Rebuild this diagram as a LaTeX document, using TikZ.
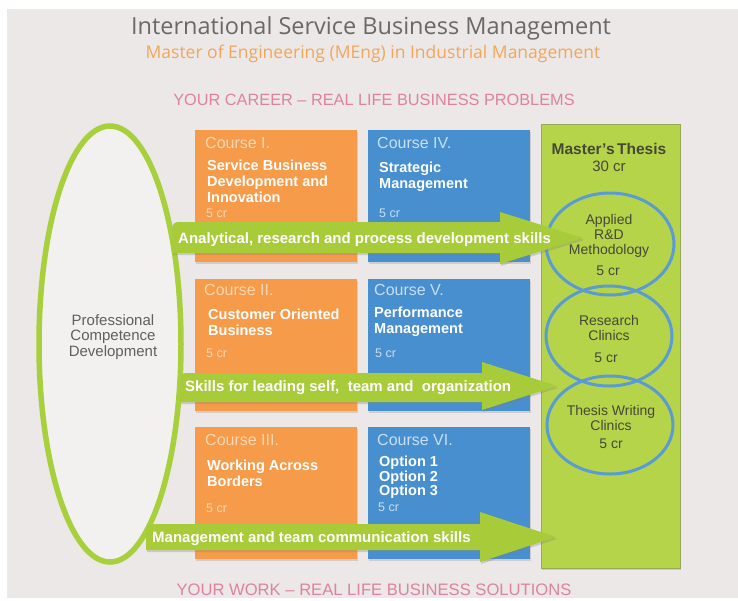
\documentclass[tikz,border=0pt]{standalone}
\usepackage{fontspec}
\setmainfont{Liberation Sans}
\newfontfamily\titlefont{Open Sans}
\usetikzlibrary{shadows}
\definecolor{bggray}{RGB}{235,232,231}
\definecolor{corange}{RGB}{246,155,74}
\definecolor{cblue}{RGB}{72,143,207}
\definecolor{thesisgreen}{RGB}{182,212,74}
\definecolor{arrowgreen}{RGB}{168,203,58}
\definecolor{ringgreen}{RGB}{168,207,60}
\definecolor{ringblue}{RGB}{91,155,213}
\definecolor{paleorange}{RGB}{253,215,178}
\definecolor{paleblue}{RGB}{200,222,243}
\definecolor{pinktext}{RGB}{221,130,162}
\definecolor{suborange}{RGB}{243,166,90}
\definecolor{titlegray}{RGB}{105,105,105}
\definecolor{darktext}{RGB}{70,72,55}
\tikzset{
  coursebox/.style={draw=none, drop shadow={shadow xshift=1pt, shadow yshift=-2pt, opacity=0.25}},
  chead/.style={anchor=base west, inner sep=0, font=\fontsize{16}{18}\selectfont},
  ctitle/.style={anchor=north west, inner sep=0, align=left, text=white, font=\fontsize{14.5}{16}\selectfont\bfseries},
  ccr/.style={anchor=base west, inner sep=0, font=\fontsize{12.5}{14}\selectfont},
  skillarrow/.style={fill=arrowgreen, drop shadow={shadow xshift=1pt, shadow yshift=-2pt, opacity=0.3}},
  skilltext/.style={anchor=base west, inner sep=0, text=white, font=\fontsize{15}{17}\selectfont\bfseries},
  ringtext/.style={align=center, inner sep=0, text=darktext, font=\fontsize{14}{15}\selectfont},
  ring/.style={draw=ringblue, line width=3pt},
}
\begin{document}
\begin{tikzpicture}[x=1pt,y=-1pt]
\useasboundingbox (0,0) rectangle (738,600);
\fill[bggray] (7,9) rectangle (738,598);

% titles
\node[text=titlegray, font=\titlefont\fontsize{23.5}{26}\selectfont] (title) at (371,28) {International Service Business Management};
\node[text=suborange, font=\titlefont\fontsize{17.5}{20}\selectfont] (subtitle) at (373,54) {Master of Engineering (MEng) in Industrial Management};
\node[text=pinktext, font=\fontsize{16.3}{18}\selectfont] (career) at (374,100) {YOUR CAREER -- REAL LIFE BUSINESS PROBLEMS};
\node[text=pinktext, font=\fontsize{16.6}{18}\selectfont] (work) at (374,590) {YOUR WORK -- REAL LIFE BUSINESS SOLUTIONS};

% competence ellipse
\draw[ringgreen, line width=5.5pt, fill={rgb,255:red,242;green,241;blue,240}] (110,344) ellipse [x radius=71, y radius=218];
\node[align=center, text={rgb,255:red,95;green,95;blue,95}, font=\fontsize{15}{15.5}\selectfont] (pcd) at (113,337) {Professional\\Competence\\Development};

% thesis column
\fill[thesisgreen, draw={rgb,255:red,150;green,170;blue,90}, line width=0.6pt, drop shadow={shadow xshift=1pt, shadow yshift=-2pt, opacity=0.3}] (541,124) rectangle (680,568);
\node[text=darktext, font=\fontsize{15.5}{17}\selectfont\bfseries, inner sep=0] (mt) at (609,149) {Master's\,Thesis};
\node[text=darktext, font=\fontsize{15}{17}\selectfont, inner sep=0] (mtcr) at (609,166) {30 cr};

% course boxes
\fill[corange, coursebox] (195,130) rectangle (357,262);
\fill[cblue, coursebox] (368,130) rectangle (530,262);
\fill[corange, coursebox] (195,279) rectangle (357,411);
\fill[cblue, coursebox] (368,279) rectangle (530,411);
\fill[corange, coursebox] (195,427) rectangle (357,559);
\fill[cblue, coursebox] (368,427) rectangle (530,559);

\node[chead, text=paleorange] (c1h) at (205,148) {Course I.};
\node[ctitle] (c1t) at (207,160) {Service Business\\Development and\\Innovation};
\node[ccr, text=paleorange] (c1c) at (206,217) {5 cr};
\node[chead, text=paleblue] (c4h) at (377,148) {Course IV.};
\node[ctitle] (c4t) at (379,162) {Strategic\\Management};
\node[ccr, text=paleblue] (c4c) at (379,217) {5 cr};

\node[chead, text=paleorange] (c2h) at (204,295) {Course II.};
\node[ctitle] (c2t) at (208,309) {Customer Oriented\\Business};
\node[ccr, text=paleorange] (c2c) at (206,357) {5 cr};
\node[chead, text=paleblue] (c5h) at (374,295) {Course V.};
\node[ctitle] (c5t) at (374,307) {Performance\\Management};
\node[ccr, text=paleblue] (c5c) at (375,357) {5 cr};

\node[chead, text=paleorange] (c3h) at (205,445) {Course III.};
\node[ctitle] (c3t) at (207,460) {Working Across\\Borders};
\node[ccr, text=paleorange] (c3c) at (206,512) {5 cr};
\node[chead, text=paleblue] (c6h) at (377,445) {Course VI.};
\node[ctitle, font=\fontsize{14.5}{14.5}\selectfont\bfseries] (c6t) at (379,456) {Option 1\\Option 2\\Option 3};
\node[ccr, text=paleblue] (c6c) at (378,511) {5 cr};

% thesis rings
\draw[ring] (610,244) ellipse [x radius=64, y radius=51];
\draw[ring] (609,336) ellipse [x radius=63, y radius=50];
\draw[ring] (610,425) ellipse [x radius=63, y radius=49];
\node[ringtext] (r1) at (609,236) {Applied\\R\&D\\Methodology};
\node[ringtext] (r1c) at (608,271) {5 cr};
\node[ringtext] (r2) at (609,328) {Research\\Clinics};
\node[ringtext] (r2c) at (606,358) {5 cr};
\node[ringtext] (r3) at (611,418) {Thesis Writing\\Clinics};
\node[ringtext] (r3c) at (611,444) {5 cr};

% skill arrows
\path[skillarrow, rounded corners=6pt] (172,253) -- (172,222) -- (300,222) [sharp corners] -- (500,222) -- (500,212) -- (583,238) -- (500,264) -- (500,253) -- cycle;
\node[skilltext] (s1) at (178,243.5) {Analytical, research and process development skills};
\path[skillarrow, rounded corners=6pt] (180,402) -- (180,373) -- (300,373) [sharp corners] -- (482,373) -- (482,362) -- (557,386) -- (482,410) -- (482,402) -- cycle;
\node[skilltext] (s2) at (185,391.5) {Skills for leading self,\ \ team and\ \ organization};
\path[skillarrow, rounded corners=6pt] (146,550) -- (146,524) -- (300,524) [sharp corners] -- (480,524) -- (480,512) -- (556,537) -- (480,562) -- (480,550) -- cycle;
\node[skilltext] (s3) at (152,542.5) {Management and team communication skills};
\end{tikzpicture}
\end{document}
